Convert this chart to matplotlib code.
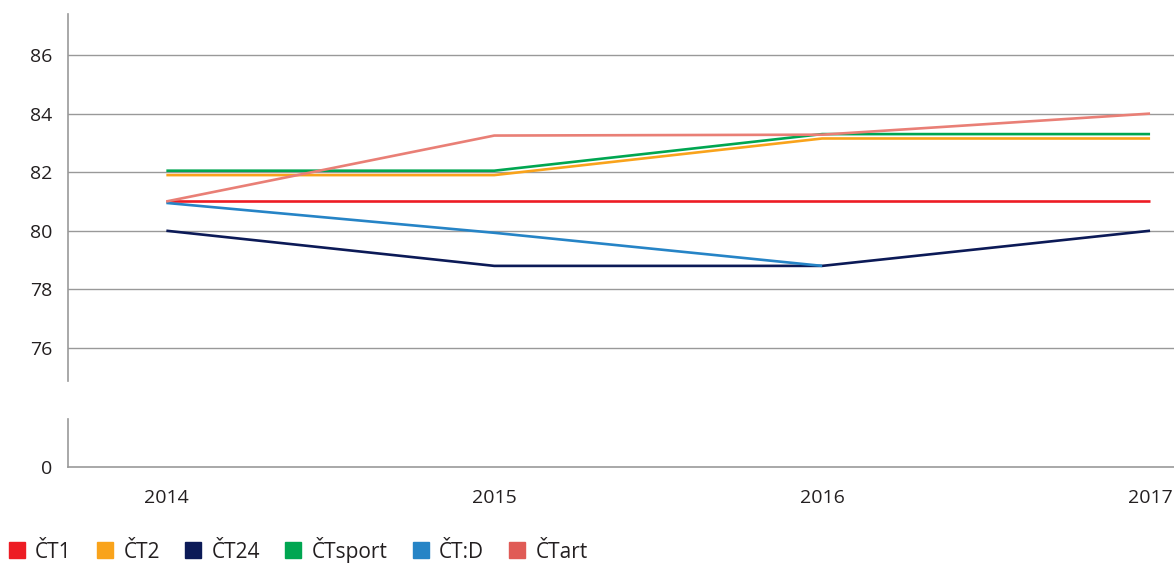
import matplotlib
matplotlib.use("Agg")
import matplotlib.pyplot as plt
from matplotlib.lines import Line2D

years = [2014, 2015, 2016, 2017]
ct1 = [81.0, 81.0, 81.0, 81.0]
ct2 = [81.9, 81.9, 83.15, 83.15]
ct24 = [80.0, 78.8, 78.8, 80.0]
ctsport = [82.05, 82.05, 83.3, 83.3]
ctd = [80.95, 79.93, 78.8]          # no 2017 value
ctart = [81.0, 83.25, 83.28, 84.0]

names = ["ČT1", "ČT2", "ČT24", "ČTsport", "ČT:D", "ČTart"]
series = [ct1, ct2, ct24, ctsport, ctd, ctart]
colors = ["#ED1C24", "#F9A31B", "#0C1A57", "#00A651", "#2684C6", "#E97F76"]
swatch = ["#ED1C24", "#F9A31B", "#0C1A57", "#00A651", "#2684C6", "#E05B56"]
yticks = [76, 78, 80, 82, 84, 86]

plt.rcParams['font.family'] = ['Open Sans', 'DejaVu Sans']
plt.rcParams['text.color'] = '#231F20'

fig = plt.figure(figsize=(11.74, 5.63), dpi=100)
ax = fig.add_axes([0.0579, 0.3233, 0.9421, 0.6518])
axb = fig.add_axes([0.0579, 0.1705, 0.9421, 0.0853])

xlim = (2013.70, 2017.073)
fs = 14

# top part of broken axis
for vals, c in zip(series, colors):
    ax.plot(years[:len(vals)], vals, color=c, lw=1.9, solid_capstyle='butt', zorder=3)
ax.set_xlim(*xlim)
ax.set_ylim(74.87, 87.4)
ax.set_yticks(yticks)
ax.set_xticks([])
ax.grid(axis='y', color='#999999', lw=1.0)
for s in ['top', 'right', 'bottom']:
    ax.spines[s].set_visible(False)
ax.spines['left'].set_color('#999999')
ax.spines['left'].set_linewidth(1.2)
ax.tick_params(axis='y', length=0, pad=11, labelsize=fs, labelcolor='#231F20')

# bottom part with zero
axb.set_xlim(*xlim)
axb.set_ylim(0, 1)
axb.set_yticks([0])
axb.set_xticks(years)
axb.set_xticklabels([str(y) for y in years])
for s in ['top', 'right']:
    axb.spines[s].set_visible(False)
for s in ['left', 'bottom']:
    axb.spines[s].set_color('#999999')
    axb.spines[s].set_linewidth(1.2)
axb.tick_params(axis='y', length=0, pad=11, labelsize=fs, labelcolor='#231F20')
axb.tick_params(axis='x', length=0, pad=16, labelsize=fs, labelcolor='#231F20')

handles = [Line2D([], [], marker='s', ls='none', color=c, markersize=11.5) for c in swatch]
fig.legend(handles, names, loc='lower left', bbox_to_anchor=(0.0, -0.014), ncol=6,
           frameon=False, fontsize=15, handletextpad=0.48, columnspacing=1.2,
           handlelength=0.8, borderaxespad=0)

fig.savefig("out.png", dpi=100)
